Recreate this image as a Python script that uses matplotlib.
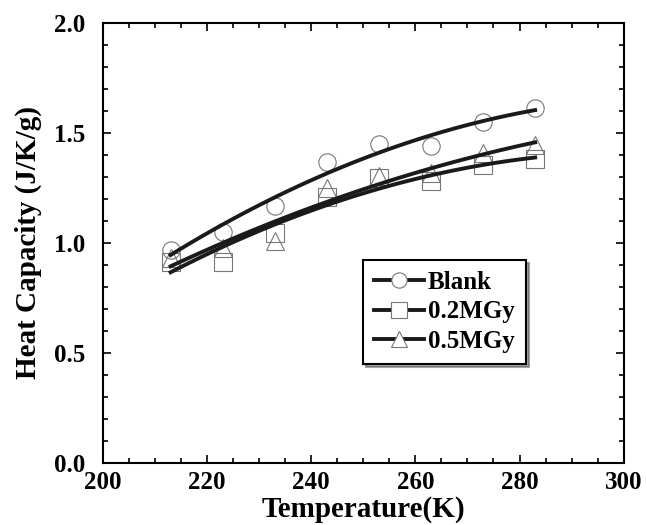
import matplotlib
matplotlib.use("Agg")
import matplotlib.pyplot as plt
from matplotlib.ticker import MultipleLocator, FormatStrFormatter
import numpy as np

temps = [213, 223, 233, 243, 253, 263, 273, 283]
blank = [0.968, 1.051, 1.168, 1.365, 1.449, 1.441, 1.548, 1.612]
mgy02 = [0.915, 0.915, 1.045, 1.210, 1.294, 1.279, 1.355, 1.382]
mgy05 = [0.930, 0.977, 1.006, 1.249, 1.303, 1.317, 1.410, 1.445]
labels = ['Blank', '0.2MGy', '0.5MGy']
markers = ['o', 's', '^']

plt.rcParams['font.family'] = ['Liberation Serif', 'DejaVu Serif']
plt.rcParams['font.weight'] = 'bold'

fig = plt.figure(figsize=(6.47, 5.25), dpi=100)
ax = fig.add_axes([0.159, 0.118, 0.805, 0.839])

x = np.array(temps, float)
xs = np.linspace(x.min(), x.max(), 100)
for ys, lab, m in zip([blank, mgy02, mgy05], labels, markers):
    # quadratic fit through each data set, like the original
    c = np.polyfit(x, ys, 2)
    ax.plot(xs, np.polyval(c, xs), color='#1a1a1a', lw=2.8, zorder=3)
    ax.plot(x, ys, linestyle='none', marker=m, ms=12.5, mfc='none',
            mec='#777777', mew=0.8, zorder=2)
    # legend proxy
    ax.plot([], [], color='#1a1a1a', lw=2.8, marker=m, ms=11, mfc='white',
            mec='#777777', mew=0.8, label=lab)

ax.set_xlim(200, 300)
ax.set_ylim(0, 2.0)
ax.xaxis.set_major_locator(MultipleLocator(20))
ax.xaxis.set_minor_locator(MultipleLocator(5))
ax.yaxis.set_major_locator(MultipleLocator(0.5))
ax.yaxis.set_minor_locator(MultipleLocator(0.1))
ax.tick_params(which='both', direction='in', top=True, right=True,
               labelsize=18, width=1.2)
ax.tick_params(axis='x', which='both', pad=6)
ax.tick_params(axis='y', which='both', pad=13)
ax.tick_params(which='major', length=6)
ax.tick_params(which='minor', length=3.5)
for s in ax.spines.values():
    s.set_linewidth(1.5)
ax.yaxis.set_major_formatter(FormatStrFormatter('%.1f'))

ax.set_xlabel('Temperature(K)', fontsize=21, fontweight='bold', labelpad=1)
ax.set_ylabel('Heat Capacity (J/K/g)', fontsize=21, fontweight='bold', labelpad=8)

leg = ax.legend(loc='upper left', bbox_to_anchor=(0.499, 0.461),
                borderaxespad=0, fontsize=18, frameon=True, fancybox=False,
                shadow=True, edgecolor='black', framealpha=1,
                handlelength=2.0, handletextpad=0.15, labelspacing=0.25,
                borderpad=0.45)
leg.get_frame().set_linewidth(1.5)

fig.savefig('out.png', dpi=100)
